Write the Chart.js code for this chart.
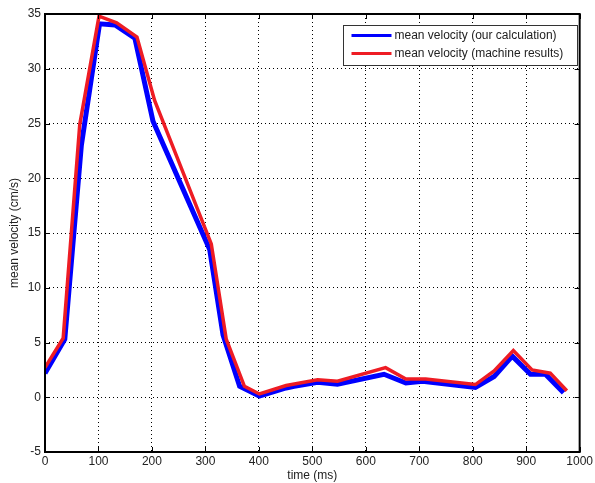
<!DOCTYPE html>
<html>
<head>
<meta charset="utf-8">
<script src="https://cdn.jsdelivr.net/npm/chart.js@4/dist/chart.umd.min.js"></script>
<style>
  html, body { margin: 0; padding: 0; background: #fff; }
  #wrap { width: 595px; height: 483px; position: relative; }
</style>
</head>
<body>
<div id="wrap"><canvas id="velChart"></canvas></div>
<script>
// our calculation (blue)
const calcTime = [0, 37, 68, 102, 131, 168, 202, 308, 333, 364, 401, 451, 466, 510, 547, 634, 675, 706, 805, 840, 874, 908, 936, 970];
const calcVel  = [2.2, 5.3, 23, 34.1, 34.0, 32.8, 25.2, 13.5, 5.7, 1.0, 0.1, 0.85, 1.0, 1.37, 1.2, 2.1, 1.3, 1.46, 0.9, 1.9, 3.75, 2.1, 2.1, 0.4];
// machine results (red)
const machTime = [0, 34, 65, 101, 134, 172, 205, 311, 339, 373, 401, 451, 510, 547, 637, 675, 712, 805, 840, 876, 911, 945, 976];
const machVel  = [2.7, 5.4, 24.9, 34.8, 34.2, 32.9, 27.1, 14.0, 5.3, 1.0, 0.3, 1.07, 1.6, 1.46, 2.7, 1.67, 1.67, 1.16, 2.4, 4.27, 2.5, 2.2, 0.6];

const xTicks = [0, 100, 200, 300, 400, 500, 600, 700, 800, 900, 1000];
const yTicks = [-5, 0, 5, 10, 15, 20, 25, 30, 35];

const seriesNames = ["mean velocity (our calculation)", "mean velocity (machine results)"];
const seriesColors = ["#0000ff", "#ee1c24"];

const FONT = "'Liberation Sans', Arial, sans-serif";
Chart.defaults.font.family = FONT;
Chart.defaults.font.size = 12;
Chart.defaults.color = "#222";

const toPoints = (xs, ys) => xs.map((x, i) => ({ x: x, y: ys[i] }));

// box, inward ticks and legend, matlab style
const matlabFrame = {
  id: "matlabFrame",
  afterDatasetsDraw(chart) {
    const { ctx, chartArea: a, scales } = chart;
    ctx.save();
    ctx.strokeStyle = "#000";
    ctx.lineWidth = 1;
    xTicks.forEach((t) => {
      const px = Math.round(scales.x.getPixelForValue(t)) + 0.5;
      ctx.beginPath();
      ctx.moveTo(px, a.bottom); ctx.lineTo(px, a.bottom - 5);
      ctx.moveTo(px, a.top); ctx.lineTo(px, a.top + 5);
      ctx.stroke();
    });
    yTicks.forEach((t) => {
      const py = Math.round(scales.y.getPixelForValue(t)) + 0.5;
      ctx.beginPath();
      ctx.moveTo(a.left, py); ctx.lineTo(a.left + 5, py);
      ctx.moveTo(a.right, py); ctx.lineTo(a.right - 5, py);
      ctx.stroke();
    });
    ctx.lineWidth = 2;
    ctx.strokeRect(a.left, a.top, a.right - a.left, a.bottom - a.top);

    // legend box
    const lx = 343.5, ly = 25.5, lw = 234, lh = 40;
    ctx.fillStyle = "#fff";
    ctx.fillRect(lx, ly, lw, lh);
    ctx.lineWidth = 1;
    ctx.strokeStyle = "#333";
    ctx.strokeRect(lx, ly, lw, lh);
    ctx.font = "12px " + FONT;
    ctx.textBaseline = "middle";
    ctx.textAlign = "left";
    seriesNames.forEach((name, i) => {
      const y = ly + 10 + i * 18;
      ctx.strokeStyle = seriesColors[i];
      ctx.lineWidth = 3;
      ctx.beginPath();
      ctx.moveTo(lx + 8, y); ctx.lineTo(lx + 48, y);
      ctx.stroke();
      ctx.fillStyle = "#222";
      ctx.fillText(name, lx + 51, y);
    });
    ctx.restore();
  }
};

new Chart(document.getElementById("velChart"), {
  type: "line",
  data: {
    datasets: [
      {
        label: seriesNames[0],
        data: toPoints(calcTime, calcVel),
        borderColor: seriesColors[0],
        borderWidth: 5,
        pointRadius: 0,
        tension: 0,
        order: 2,
      },
      {
        label: seriesNames[1],
        data: toPoints(machTime, machVel),
        borderColor: seriesColors[1],
        borderWidth: 3.5,
        pointRadius: 0,
        tension: 0,
        order: 1,
      },
    ],
  },
  options: {
    responsive: true,
    maintainAspectRatio: false,
    animation: false,
    layout: { padding: { top: 14, right: 14, left: 0, bottom: 0 } },
    plugins: {
      legend: { display: false },
      tooltip: { enabled: false },
    },
    scales: {
      x: {
        type: "linear",
        min: 0,
        max: 1000,
        afterBuildTicks: (s) => { s.ticks = xTicks.map((v) => ({ value: v })); },
        afterFit: (s) => { s.height = 31; },
        ticks: { padding: 2, maxRotation: 0, color: "#222", callback: (v) => String(v) },
        grid: { color: "#000", lineWidth: 1, drawTicks: false },
        border: { display: false, dash: [1, 3] },
        title: { display: true, text: "time (ms)", padding: 0, color: "#222" },
      },
      y: {
        min: -5,
        max: 35,
        afterBuildTicks: (s) => { s.ticks = yTicks.map((v) => ({ value: v })); },
        afterFit: (s) => { s.width = 45; },
        ticks: { padding: 4, color: "#222", callback: (v) => String(v) },
        grid: { color: "#000", lineWidth: 1, drawTicks: false },
        border: { display: false, dash: [1, 3] },
        title: { display: true, text: "mean velocity (cm/s)", padding: { top: 7, bottom: 0 }, color: "#222" },
      },
    },
  },
  plugins: [matlabFrame],
});
</script>
</body>
</html>
